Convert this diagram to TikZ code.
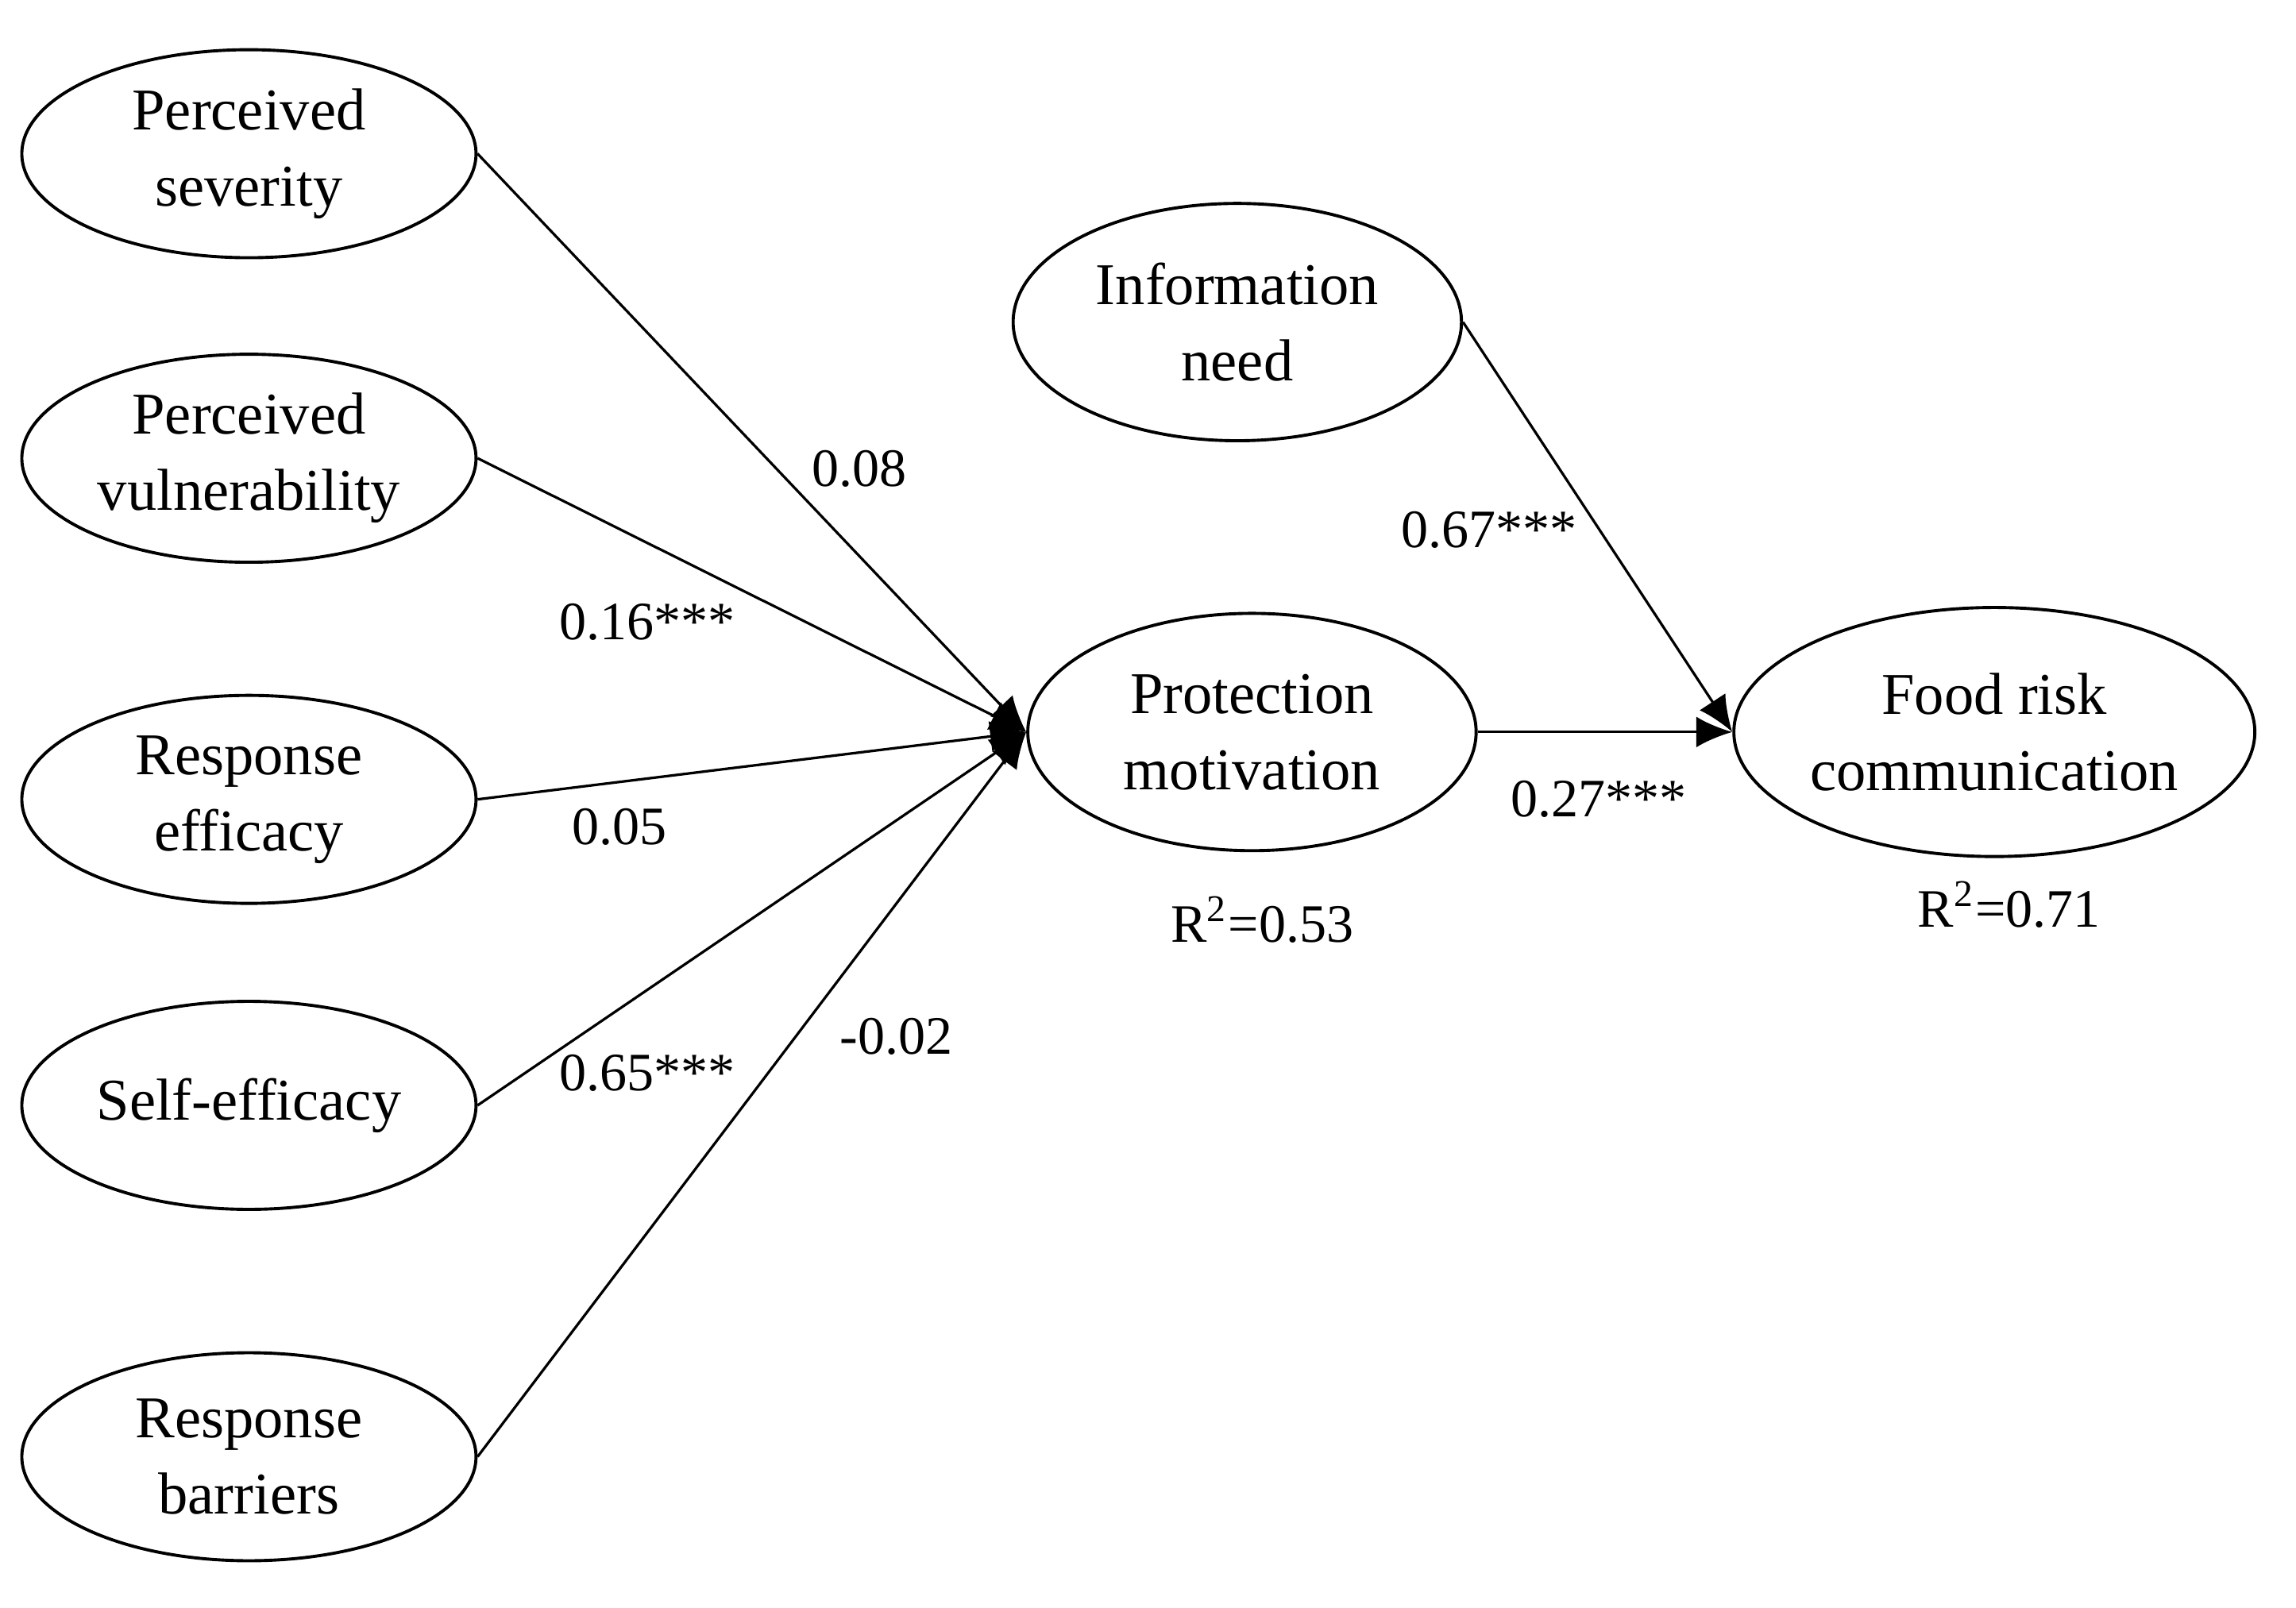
\documentclass[tikz,border=0pt]{standalone}
\usepackage{fontspec}
\setmainfont{Liberation Serif}
\usetikzlibrary{shapes.geometric,arrows.meta}
\begin{document}
\begin{tikzpicture}[x=0.01cm,y=-0.01cm,
  lat/.style={draw,ellipse,inner sep=0pt,line width=0.6pt,align=center,font=\fontsize{11.5}{14.8}\selectfont},
  sm/.style={minimum width=3.10cm,minimum height=1.42cm},
  lbl/.style={font=\fontsize{10.5}{12}\selectfont},
  arr/.style={line width=0.5pt,-{Latex[length=7pt,width=6pt]}}]
\useasboundingbox (0,0) rectangle (1568,1098);
\node[lat,sm] (ps) at (170,105) {Perceived\\severity};
\node[lat,sm] (pv) at (170,313) {Perceived\\vulnerability};
\node[lat,sm] (re) at (170,546) {Response\\efficacy};
\node[lat,sm] (se) at (170,755) {Self-efficacy};
\node[lat,sm] (rb) at (170,995) {Response\\barriers};
\node[lat,minimum width=3.06cm,minimum height=1.62cm] (in) at (845,220) {Information\\need};
\node[lat,minimum width=3.06cm,minimum height=1.62cm] (pm) at (855,500) {Protection\\motivation};
\node[lat,minimum width=3.50cm,minimum height=1.70cm] (fr) at (1362,500) {Food risk\\communication};
\draw[arr] (ps.east) -- (pm.west);
\draw[arr] (pv.east) -- (pm.west);
\draw[arr] (re.east) -- (pm.west);
\draw[arr] (se.east) -- (pm.west);
\draw[arr] (rb.east) -- (pm.west);
\draw[arr] (in.east) -- (fr.west);
\draw[arr] (pm.east) -- (fr.west);
\node[lbl] (l1) at (587,320) {0.08};
\node[lbl] (l2) at (442,425) {0.16***};
\node[lbl] (l3) at (423,565) {0.05};
\node[lbl] (l4) at (442,733) {0.65***};
\node[lbl] (l5) at (612,708) {-0.02};
\node[lbl] (l6) at (1017,362) {0.67***};
\node[lbl] (l7) at (1092,546) {0.27***};
\node[lbl] (r1) at (862,628) {R\textsuperscript{2}=0.53};
\node[lbl] (r2) at (1372,618) {R\textsuperscript{2}=0.71};
\end{tikzpicture}
\end{document}
